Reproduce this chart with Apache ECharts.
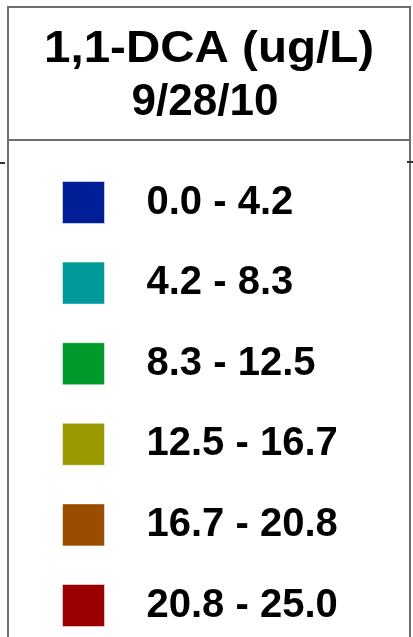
<!DOCTYPE html>
<html>
<head>
<meta charset="utf-8">
<script src="https://cdn.jsdelivr.net/npm/echarts@6/dist/echarts.min.js"></script>
<style>html,body{margin:0;padding:0;background:#fff;}#main{width:413px;height:637px;}</style>
</head>
<body>
<div id="main"></div>
<script>
var titleLines = ['1,1-DCA (ug/L)', '9/28/10'];
var categories = ['0.0 - 4.2', '4.2 - 8.3', '8.3 - 12.5', '12.5 - 16.7', '16.7 - 20.8', '20.8 - 25.0'];
var colors = ['#001f96', '#009a9a', '#009a2c', '#9a9a00', '#9a4c00', '#9a0000'];

var chart = echarts.init(document.getElementById('main'));
var series = categories.map(function (c, i) {
  return { type: 'bar', name: c, data: [], itemStyle: { color: colors[i] } };
});
var titleGraphics = titleLines.map(function (t, i) {
  return {
    type: 'text',
    x: i === 0 ? 209 : 205,
    y: 49.5 + i * 53,
    scaleX: i === 0 ? 1.08 : 1.0,
    style: {
      text: t,
      x: 0, y: 0,
      textAlign: 'center',
      textVerticalAlign: 'middle',
      font: 'bold 44px "Liberation Sans"',
      fill: '#000'
    }
  };
});
chart.setOption({
  animation: false,
  color: colors,
  grid: { left: -10, right: -10, top: -10, bottom: -10, show: false },
  xAxis: { type: 'category', show: false, data: ['a'] },
  yAxis: { type: 'value', show: false },
  legend: {
    orient: 'vertical',
    left: 62,
    top: 181,
    padding: 0,
    itemWidth: 42,
    itemHeight: 42,
    itemGap: 37.6,
    icon: 'rect',
    selectedMode: false,
    itemStyle: { borderColor: 'rgba(255,255,255,0.5)', borderWidth: 1 },
    textStyle: { fontFamily: 'Liberation Sans', fontSize: 40, fontWeight: 'bold', color: '#000', lineHeight: 42, padding: [0, 0, 0, 37] },
    data: categories
  },
  graphic: [
    { type: 'polyline', shape: { points: [[8, 637], [8, 7], [410, 7], [410, 637]] }, style: { stroke: '#6e6e6e', lineWidth: 2, fill: null } },
    { type: 'line', shape: { x1: 8, y1: 140, x2: 410, y2: 140 }, style: { stroke: '#6e6e6e', lineWidth: 2 } },
    { type: 'line', shape: { x1: 0, y1: 163, x2: 5, y2: 163 }, style: { stroke: '#333', lineWidth: 2 } },
    { type: 'line', shape: { x1: 407, y1: 162, x2: 413, y2: 162 }, style: { stroke: '#333', lineWidth: 2 } }
  ].concat(titleGraphics),
  series: series
});
</script>
</body>
</html>
